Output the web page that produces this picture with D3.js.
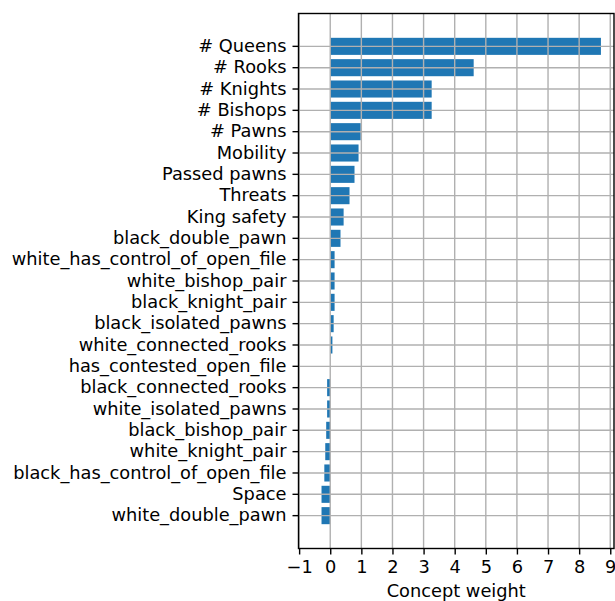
<!DOCTYPE html>
<html>
<head>
<meta charset="utf-8">
<script src="https://cdn.jsdelivr.net/npm/d3@7"></script>
<style>
  html, body { margin: 0; padding: 0; background: #fff; }
  svg { display: block; }
  text { font-family: "DejaVu Sans", sans-serif; fill: #000; }
</style>
</head>
<body>
<svg id="chart" width="615" height="601"></svg>
<script>
// Concept names, listed from top to bottom
const concepts = [
  "# Queens", "# Rooks", "# Knights", "# Bishops", "# Pawns",
  "Mobility", "Passed pawns", "Threats", "King safety", "black_double_pawn",
  "white_has_control_of_open_file", "white_bishop_pair", "black_knight_pair",
  "black_isolated_pawns", "white_connected_rooks", "has_contested_open_file",
  "black_connected_rooks", "white_isolated_pawns", "black_bishop_pair",
  "white_knight_pair", "black_has_control_of_open_file", "Space", "white_double_pawn"
];

// Weight of each concept
const weights = [
  8.70, 4.61, 3.26, 3.26, 0.98,
  0.91, 0.78, 0.62, 0.43, 0.33,
  0.14, 0.14, 0.14,
  0.11, 0.07, 0.00,
  -0.10, -0.10, -0.13,
  -0.16, -0.19, -0.28, -0.28
];

// Tick values on the weight axis
const xTicks = [-1, 0, 1, 2, 3, 4, 5, 6, 7, 8, 9];
const xDomain = [-1.02, 9.12];

const fontSize = 17.8;
const plot = { left: 298.5, right: 614, top: 13.5, bottom: 548.5 };

const svg = d3.select("#chart");

const x = d3.scaleLinear().domain(xDomain).range([plot.left, plot.right]);
const y = d3.scaleBand().domain(concepts).range([plot.top, plot.bottom])
  .paddingInner(0.2).paddingOuter(1.14);

const data = concepts.map((c, i) => ({ concept: c, weight: weights[i] }));

// Bars
svg.append("g").selectAll("rect").data(data).join("rect")
  .attr("x", d => x(Math.min(0, d.weight)))
  .attr("width", d => Math.abs(x(d.weight) - x(0)))
  .attr("y", d => y(d.concept))
  .attr("height", y.bandwidth())
  .attr("fill", "#1f77b4");

// Grid lines, drawn over the bars
const grid = svg.append("g").attr("stroke", "#b0b0b0").attr("stroke-width", 1.4);
grid.selectAll("line.v").data(xTicks).join("line")
  .attr("class", "v")
  .attr("x1", d => x(d)).attr("x2", d => x(d))
  .attr("y1", plot.top).attr("y2", plot.bottom);
grid.selectAll("line.h").data(concepts).join("line")
  .attr("class", "h")
  .attr("x1", plot.left).attr("x2", plot.right)
  .attr("y1", d => y(d) + y.bandwidth() / 2).attr("y2", d => y(d) + y.bandwidth() / 2);

// Axes
const fmt = d => d < 0 ? "\u2212" + Math.abs(d) : String(d);
const xAxis = svg.append("g")
  .attr("transform", `translate(0,${plot.bottom})`)
  .call(d3.axisBottom(x).tickValues(xTicks).tickFormat(fmt).tickSize(6).tickPadding(6));
const yAxis = svg.append("g")
  .attr("transform", `translate(${plot.left},0)`)
  .call(d3.axisLeft(y).tickSize(6).tickPadding(6));

[xAxis, yAxis].forEach(a => {
  a.select(".domain").remove();
  a.selectAll(".tick line").attr("stroke", "#000").attr("stroke-width", 1.4);
  a.selectAll(".tick text").attr("font-size", fontSize).attr("font-family", "DejaVu Sans");
});

// Frame
svg.append("rect")
  .attr("x", plot.left).attr("y", plot.top)
  .attr("width", plot.right - plot.left).attr("height", plot.bottom - plot.top)
  .attr("fill", "none").attr("stroke", "#000").attr("stroke-width", 1.4);

// Axis title
svg.append("text")
  .attr("x", (plot.left + plot.right) / 2).attr("y", 597)
  .attr("text-anchor", "middle")
  .attr("font-size", fontSize)
  .text("Concept weight");
</script>
</body>
</html>
